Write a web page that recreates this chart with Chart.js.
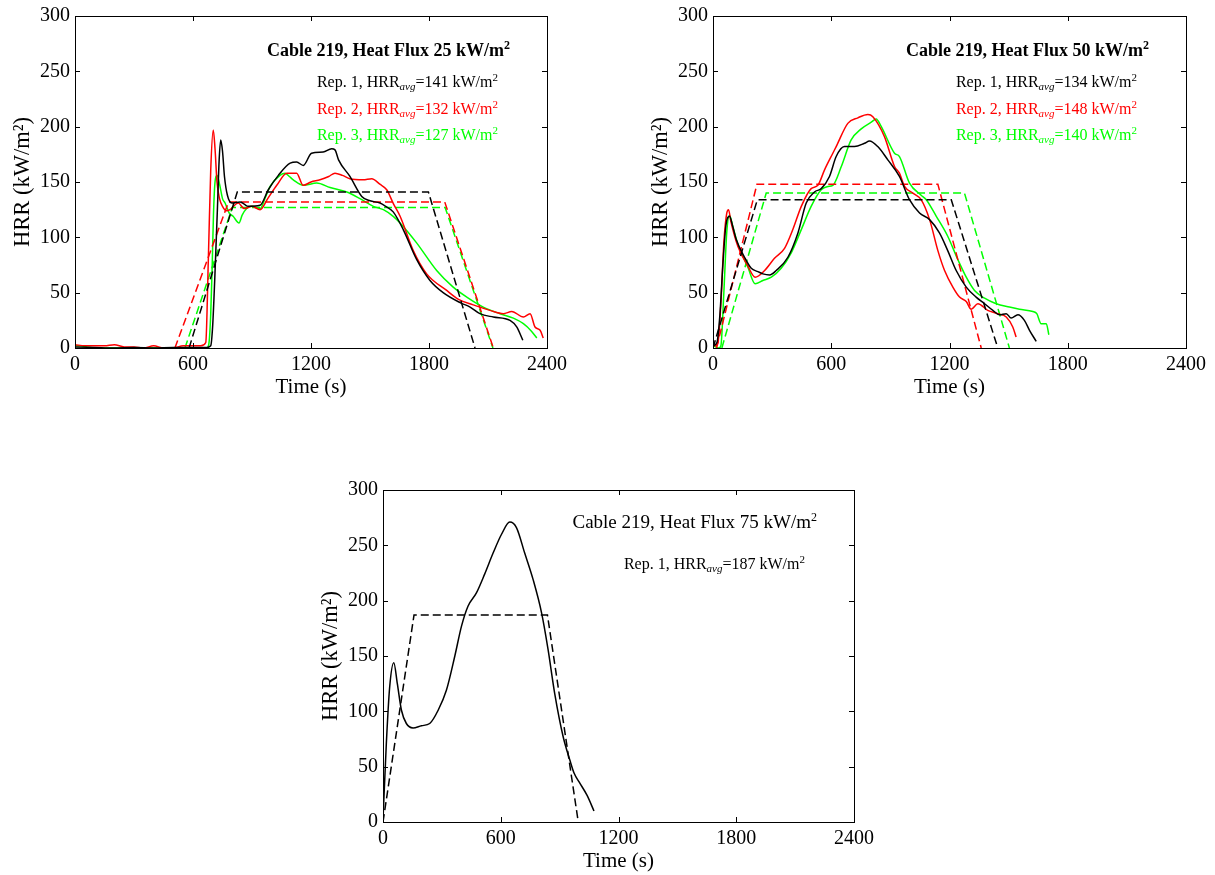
<!DOCTYPE html>
<html lang="en">
<head>
    <meta charset="UTF-8">
    <title>Cable 219 HRR</title>
    <script src="https://cdn.jsdelivr.net/npm/chart.js"></script>
    <style>
        body { margin: 0; background: #fff; overflow: hidden; }
        #page { position: relative; width: 1215px; height: 875px; background: #fff; overflow: hidden; }
        canvas { position: absolute; }
    </style>
</head>
<body>
<div id="page">
    <canvas id="chart25" width="600" height="400" style="left:0px; top:0px;"></canvas>
    <canvas id="chart50" width="577" height="400" style="left:638px; top:0px;"></canvas>
    <canvas id="chart75" width="600" height="400" style="left:308px; top:474px;"></canvas>
</div>

<script>
    // axis ticks
    const ticksX = [0, 600, 1200, 1800, 2400];
    const ticksY = [0, 50, 100, 150, 200, 250, 300];

    // ---- Heat flux 25 kW/m2 ----
    const time25Rep1 = [0, 100, 200, 300, 400, 500, 600, 670, 690, 700, 711, 724, 733, 741, 750, 760, 775, 797, 839, 860, 881, 941, 983, 1034, 1094, 1127, 1161, 1203, 1262, 1305, 1322, 1340, 1398, 1458, 1500, 1551, 1580, 1618, 1669, 1737, 1805, 1872, 1958, 2009, 2059, 2127, 2212, 2246, 2277];
    const hrr25Rep1 = [1, 0.5, 0, 0.5, 0, 0.5, 0.5, 0.5, 2, 20, 64, 125, 170, 188, 178, 155, 138, 131, 132, 130, 128, 129, 143, 156, 167, 168, 165, 176, 177, 180, 179, 170, 155, 137, 133, 131, 128, 123, 107, 80, 61, 50, 41, 37, 31, 28, 25, 19, 7];
    const time25Rep2 = [0, 50, 100, 150, 200, 250, 300, 350, 400, 450, 500, 550, 600, 640, 665, 678, 690, 703, 712, 722, 735, 750, 770, 788, 830, 860, 900, 941, 980, 1026, 1077, 1127, 1160, 1200, 1246, 1290, 1322, 1360, 1398, 1465, 1509, 1550, 1585, 1620, 1653, 1720, 1788, 1890, 1950, 2025, 2110, 2178, 2221, 2280, 2314, 2339, 2365, 2381];
    const hrr25Rep2 = [3, 2, 2, 2, 3, 1, 1, 0, 2, 0, 0, 2, 2, 2, 5, 80, 160, 197, 180, 150, 135, 128, 124, 125, 131, 126, 128, 125, 135, 147, 158, 158, 147, 150, 152, 155, 158, 156, 153, 152, 153, 148, 143, 130, 119, 88, 67, 52, 44, 39, 34, 31, 33, 28, 31, 19, 16, 9];
    const time25Rep3 = [0, 30, 60, 100, 200, 400, 600, 670, 680, 690, 697, 704, 712, 722, 735, 750, 763, 784, 804, 834, 850, 873, 900, 941, 970, 992, 1042, 1068, 1090, 1110, 1161, 1229, 1297, 1382, 1449, 1517, 1568, 1618, 1653, 1737, 1839, 1923, 1992, 2076, 2161, 2229, 2280, 2322, 2348];
    const hrr25Rep3 = [2, 2, 1, 0, 0, 0, 0, 0, 3, 30, 70, 120, 150, 156, 148, 135, 131, 122, 119, 113, 120, 126, 128, 126, 137, 146, 156, 158, 155, 152, 147, 149, 145, 141, 135, 128, 125, 119, 113, 95, 70, 55, 46, 37, 31, 27, 22, 15, 9];
    const avgTime25Rep1 = [580, 825, 1797, 2034];
    const avgHrr25Rep1 = [0, 141, 141, 0];
    const avgTime25Rep2 = [508, 781, 1880, 2127];
    const avgHrr25Rep2 = [0, 132, 132, 0];
    const avgTime25Rep3 = [559, 800, 1882, 2125];
    const avgHrr25Rep3 = [0, 127, 127, 0];

    // ---- Heat flux 50 kW/m2 ----
    const time50Rep1 = [0, 20, 35, 50, 65, 84, 100, 118, 160, 194, 228, 253, 287, 321, 380, 431, 473, 515, 549, 591, 625, 667, 718, 769, 794, 836, 887, 946, 997, 1048, 1099, 1149, 1191, 1234, 1285, 1335, 1378, 1420, 1454, 1488, 1513, 1547, 1580, 1606, 1640];
    const hrr50Rep1 = [2, 5, 30, 75, 110, 119, 110, 98, 82, 72, 69, 67, 66, 70, 82, 104, 131, 141, 144, 155, 173, 182, 182, 185, 187, 182, 170, 155, 134, 122, 116, 104, 88, 70, 55, 46, 40, 34, 30, 31, 27, 30, 25, 16, 6];
    const time50Rep2 = [0, 10, 25, 40, 55, 70, 79, 90, 126, 177, 214, 262, 312, 363, 405, 448, 498, 532, 566, 608, 625, 684, 735, 786, 811, 870, 921, 946, 972, 1014, 1056, 1099, 1141, 1175, 1217, 1251, 1285, 1310, 1344, 1394, 1445, 1488, 1521, 1538];
    const hrr50Rep2 = [3, 2, 5, 40, 95, 122, 125, 115, 92, 74, 64, 70, 81, 90, 107, 128, 144, 147, 161, 176, 182, 203, 208, 211, 209, 191, 164, 158, 146, 140, 134, 116, 88, 70, 55, 46, 42, 35, 40, 34, 31, 28, 19, 10];
    const time50Rep3 = [0, 30, 40, 55, 70, 84, 100, 126, 177, 214, 253, 296, 346, 397, 448, 498, 549, 583, 608, 651, 701, 752, 803, 828, 854, 921, 946, 997, 1056, 1082, 1133, 1191, 1242, 1285, 1327, 1378, 1437, 1504, 1555, 1623, 1643, 1665, 1691, 1704];
    const hrr50Rep3 = [2, 0, 2, 50, 105, 120, 110, 94, 73, 58, 61, 64, 72, 86, 107, 128, 143, 146, 147, 164, 188, 198, 204, 207, 200, 176, 173, 149, 138, 134, 119, 101, 80, 64, 52, 45, 40, 37, 35, 33, 31, 22, 22, 12];
    const avgTime50Rep1 = [0, 225, 1209, 1445];
    const avgHrr50Rep1 = [0, 134, 134, 0];
    const avgTime50Rep2 = [18, 223, 1141, 1361];
    const avgHrr50Rep2 = [0, 148, 148, 0];
    const avgTime50Rep3 = [45, 270, 1276, 1504];
    const avgHrr50Rep3 = [0, 140, 140, 0];

    // ---- Heat flux 75 kW/m2 ----
    const time75Rep1 = [0, 17, 34, 55, 73, 94, 119, 153, 196, 238, 281, 323, 366, 400, 433, 476, 518, 561, 604, 646, 680, 722, 765, 808, 841, 875, 918, 952, 974, 1000, 1040, 1075];
    const hrr75Rep1 = [2, 71, 122, 144, 125, 101, 89, 85, 87, 89, 101, 119, 150, 177, 195, 207, 224, 243, 260, 271, 266, 243, 219, 189, 156, 116, 77, 56, 44, 36, 24, 10];
    const avgTime75Rep1 = [0, 158, 838, 995];
    const avgHrr75Rep1 = [0, 187, 187, 0];

    const repColors = ['#000000', '#ff0000', '#00ff00'];
    const serif = "'Liberation Serif', 'DejaVu Serif', serif";

    function pairs(xs, ys) {
        return xs.map((x, i) => ({ x: x, y: ys[i] }));
    }

    function makeDatasets(reps) {
        const sets = [];
        reps.forEach((rep, i) => {
            sets.push({ data: pairs(rep.time, rep.hrr), borderColor: repColors[i], borderWidth: 1.5, pointRadius: 0, cubicInterpolationMode: 'monotone' });
            sets.push({ data: pairs(rep.avgTime, rep.avgHrr), borderColor: repColors[i], borderWidth: 1.5, borderDash: [8, 4], pointRadius: 0, tension: 0 });
        });
        return sets;
    }

    // draws text made of several pieces (superscript, subscript), right aligned
    function drawParts(ctx, parts, right, baseline, color) {
        let total = 0;
        parts.forEach(p => { ctx.font = p.font; p.w = ctx.measureText(p.text).width; total += p.w; });
        let x = right - total;
        ctx.fillStyle = color;
        ctx.textBaseline = 'alphabetic';
        ctx.textAlign = 'left';
        parts.forEach(p => {
            ctx.font = p.font;
            ctx.fillText(p.text, x, baseline + (p.dy || 0));
            x += p.w;
        });
    }

    const panelText = {
        id: 'panelText',
        afterDraw(chart, args, opts) {
            const ctx = chart.ctx;
            const area = chart.chartArea;
            ctx.save();
            const w = opts.bold ? 'bold ' : '';
            drawParts(ctx, [
                { text: opts.title, font: w + opts.titleSize + 'px ' + serif },
                { text: '2', font: w + '12px ' + serif, dy: -7 }
            ], area.right - 37, area.top + opts.titleBase, '#000');
            opts.reps.forEach((r, i) => {
                drawParts(ctx, [
                    { text: 'Rep. ' + (i + 1) + ', HRR', font: '16px ' + serif },
                    { text: 'avg', font: 'italic 11px ' + serif, dy: 3 },
                    { text: '=' + r + ' kW/m', font: '16px ' + serif },
                    { text: '2', font: '11px ' + serif, dy: -6 }
                ], area.right - 49, area.top + opts.lineBase[i], repColors[i]);
            });
            ctx.restore();
        }
    };

    // MATLAB style box with inward ticks
    const boxTicks = {
        id: 'boxTicks',
        afterDatasetsDraw(chart) {
            const ctx = chart.ctx;
            const a = chart.chartArea;
            const xs = chart.scales.x;
            const ys = chart.scales.y;
            ctx.save();
            ctx.strokeStyle = '#000';
            ctx.lineWidth = 1;
            ctx.beginPath();
            ticksX.forEach(v => {
                const px = Math.round(xs.getPixelForValue(v)) + 0.5;
                ctx.moveTo(px, a.bottom); ctx.lineTo(px, a.bottom - 5);
                ctx.moveTo(px, a.top); ctx.lineTo(px, a.top + 5);
            });
            ticksY.forEach(v => {
                const py = Math.round(ys.getPixelForValue(v)) + 0.5;
                ctx.moveTo(a.left, py); ctx.lineTo(a.left + 5, py);
                ctx.moveTo(a.right, py); ctx.lineTo(a.right - 5, py);
            });
            ctx.stroke();
            ctx.strokeRect(Math.round(a.left) + 0.5, Math.round(a.top) + 0.5, Math.round(a.right - a.left), Math.round(a.bottom - a.top));
            ctx.restore();
        }
    };

    function makeChart(id, reps, text, padRight) {
        return new Chart(document.getElementById(id), {
            type: 'line',
            data: { datasets: makeDatasets(reps) },
            options: {
                responsive: false,
                animation: false,
                events: [],
                layout: { padding: { top: 16, right: padRight, left: 0, bottom: 0 } },
                plugins: {
                    legend: { display: false },
                    tooltip: { enabled: false },
                    panelText: text
                },
                scales: {
                    x: {
                        type: 'linear',
                        min: 0,
                        max: 2400,
                        afterBuildTicks: s => { s.ticks = ticksX.map(v => ({ value: v })); },
                        afterFit: s => { s.height = 52; s.paddingLeft = 0; s.paddingRight = 0; },
                        grid: { display: false, drawTicks: false },
                        border: { display: false },
                        ticks: { color: '#000', padding: 5, maxRotation: 0, callback: v => String(v), font: { family: serif, size: 20 } },
                        title: { display: true, text: 'Time (s)', color: '#000', padding: { top: 0, bottom: 0 }, font: { family: serif, size: 21 } }
                    },
                    y: {
                        type: 'linear',
                        min: 0,
                        max: 300,
                        afterBuildTicks: s => { s.ticks = ticksY.map(v => ({ value: v })); },
                        afterFit: s => { s.width = 75; s.paddingTop = 0; s.paddingBottom = 0; },
                        grid: { display: false, drawTicks: false },
                        border: { display: false },
                        ticks: { color: '#000', padding: 5, callback: v => String(v), font: { family: serif, size: 20 } },
                        title: { display: true, text: 'HRR (kW/m²)', color: '#000', padding: { top: 10, bottom: 0 }, font: { family: serif, size: 22.5 } }
                    }
                }
            },
            plugins: [boxTicks, panelText]
        });
    }

    makeChart('chart25', [
        { time: time25Rep1, hrr: hrr25Rep1, avgTime: avgTime25Rep1, avgHrr: avgHrr25Rep1 },
        { time: time25Rep2, hrr: hrr25Rep2, avgTime: avgTime25Rep2, avgHrr: avgHrr25Rep2 },
        { time: time25Rep3, hrr: hrr25Rep3, avgTime: avgTime25Rep3, avgHrr: avgHrr25Rep3 }
    ], { title: 'Cable 219, Heat Flux 25 kW/m', bold: true, titleSize: 18, titleBase: 40, reps: [141, 132, 127], lineBase: [71, 97.5, 123.5] }, 53);

    makeChart('chart50', [
        { time: time50Rep1, hrr: hrr50Rep1, avgTime: avgTime50Rep1, avgHrr: avgHrr50Rep1 },
        { time: time50Rep2, hrr: hrr50Rep2, avgTime: avgTime50Rep2, avgHrr: avgHrr50Rep2 },
        { time: time50Rep3, hrr: hrr50Rep3, avgTime: avgTime50Rep3, avgHrr: avgHrr50Rep3 }
    ], { title: 'Cable 219, Heat Flux 50 kW/m', bold: true, titleSize: 18, titleBase: 40, reps: [134, 148, 140], lineBase: [71, 97.5, 123.5] }, 29);

    makeChart('chart75', [
        { time: time75Rep1, hrr: hrr75Rep1, avgTime: avgTime75Rep1, avgHrr: avgHrr75Rep1 }
    ], { title: 'Cable 219, Heat Flux 75 kW/m', bold: false, titleSize: 19, titleBase: 38, reps: [187], lineBase: [79] }, 54);
</script>
</body>
</html>
